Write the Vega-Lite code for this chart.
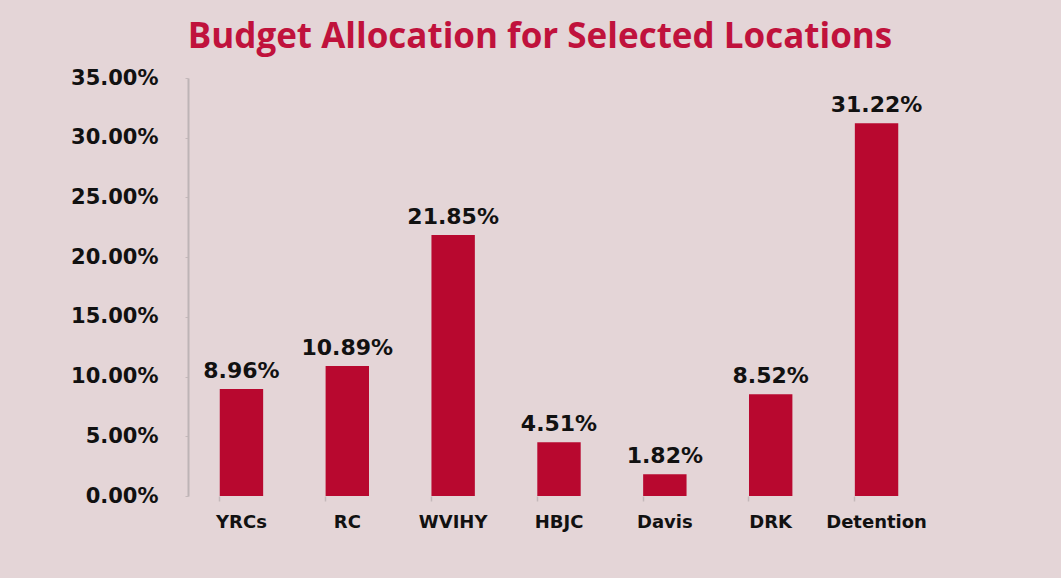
{
  "$schema": "https://vega.github.io/schema/vega-lite/v6.json",
  "width": 742,
  "height": 418,
  "autosize": {"type": "none"},
  "padding": {"left": 188, "top": 78, "right": 131, "bottom": 82},
  "background": "#E4D5D7",
  "title": {
    "text": "Budget Allocation for Selected Locations",
    "font": "Open Sans",
    "fontSize": 35,
    "fontWeight": "bold",
    "color": "#C0123C",
    "anchor": "middle",
    "dx": -19,
    "offset": 12
  },
  "data": {
    "values": [
      {"location": "YRCs", "share": 0.0896},
      {"location": "RC", "share": 0.1089},
      {"location": "WVIHY", "share": 0.2185},
      {"location": "HBJC", "share": 0.0451},
      {"location": "Davis", "share": 0.0182},
      {"location": "DRK", "share": 0.0852},
      {"location": "Detention", "share": 0.3122}
    ]
  },
  "config": {
    "view": {"stroke": null}
  },
  "encoding": {
    "x": {
      "field": "location",
      "type": "nominal",
      "sort": null,
      "scale": {"paddingInner": 0.59, "paddingOuter": 0.3},
      "axis": {
        "title": null,
        "labelAngle": 0,
        "labelFont": "DejaVu Sans",
        "labelFontWeight": "bold",
        "labelFontSize": 18,
        "labelColor": "#111111",
        "labelPadding": 12,
        "domain": false,
        "ticks": true,
        "bandPosition": 0,
        "tickColor": "#C4B8BA",
        "tickSize": 5,
        "tickWidth": 1.5
      }
    },
    "y": {
      "field": "share",
      "type": "quantitative",
      "scale": {"domain": [0, 0.35]},
      "axis": {
        "title": null,
        "format": ".2%",
        "values": [0, 0.05, 0.1, 0.15, 0.2, 0.25, 0.3, 0.35],
        "labelFont": "DejaVu Sans",
        "labelFontWeight": "bold",
        "labelFontSize": 21,
        "labelColor": "#111111",
        "labelPadding": 27,
        "grid": false,
        "domainColor": "#BDB4B6",
        "domainWidth": 2,
        "tickColor": "#C4B8BA",
        "tickSize": 3
      }
    }
  },
  "layer": [
    {
      "mark": {"type": "bar", "color": "#B8082F"}
    },
    {
      "mark": {
        "type": "text",
        "baseline": "bottom",
        "dy": -6,
        "font": "DejaVu Sans",
        "fontWeight": "bold",
        "fontSize": 22,
        "color": "#111111"
      },
      "encoding": {
        "text": {"field": "share", "type": "quantitative", "format": ".2%"}
      }
    }
  ]
}
